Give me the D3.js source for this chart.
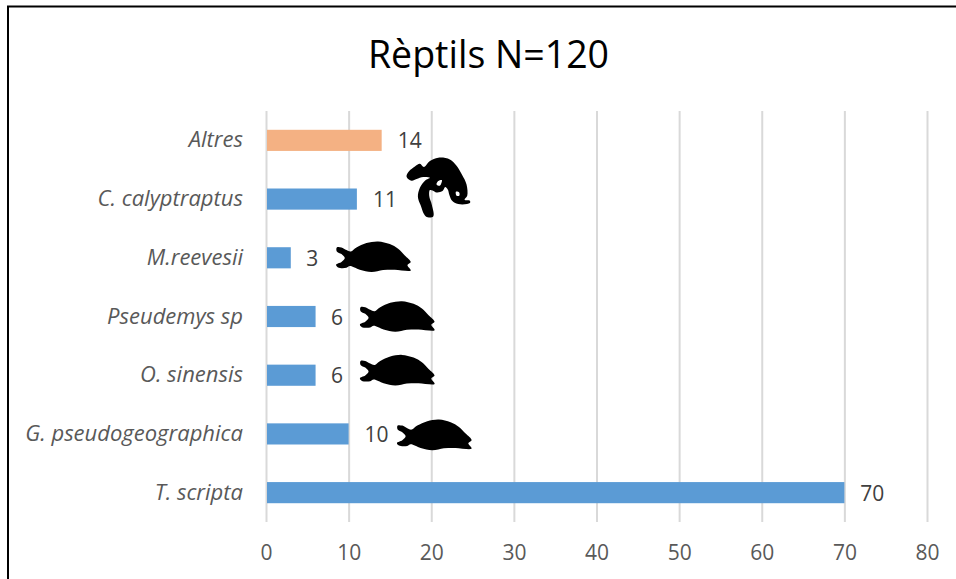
<!DOCTYPE html>
<html><head><meta charset="utf-8">
<script src="https://cdn.jsdelivr.net/npm/d3@7"></script>
<style>html,body{margin:0;padding:0;background:#fff}svg{display:block}
text{font-family:"Open Sans",sans-serif}</style></head>
<body><svg id="c" width="956" height="579"></svg>
<script>
const categories=["Altres","C. calyptraptus","M.reevesii","Pseudemys sp","O. sinensis","G. pseudogeographica","T. scripta"];
const counts=[14,11,3,6,6,10,70];
const highlighted=["Altres"];
const silhouettes=["","chameleon","turtle","turtle","turtle","turtle",""];
const xTicks=[0,10,20,30,40,50,60,70,80];
const titleText="Rèptils N=120";

const svg=d3.select("#c");
svg.append("path").attr("d","M8,579V6.5H956").attr("fill","none").attr("stroke","#000").attr("stroke-width",2);
svg.append("text").attr("x",488.5).attr("y",68).attr("text-anchor","middle").attr("font-size",37.5).attr("fill","#000").text(titleText);

const x=d3.scaleLinear().domain([0,80]).range([266,927]);
const y=d3.scaleBand().domain(categories).range([111,522]).paddingInner(0.64).paddingOuter(0.32);

const gx=svg.append("g").attr("transform","translate(0,522)")
  .call(d3.axisBottom(x).tickValues(xTicks).tickSize(-411).tickPadding(23));
gx.select(".domain").remove();
gx.selectAll(".tick line").attr("stroke","#d9d9d9").attr("stroke-width",2);
gx.selectAll(".tick text").attr("font-size",21).attr("fill","#595959").style("font-family",'"Open Sans",sans-serif');

const gy=svg.append("g").attr("transform","translate(266,0)")
  .call(d3.axisLeft(y).tickSize(0).tickPadding(23));
gy.select(".domain").remove();
gy.selectAll(".tick text").attr("font-size",22).attr("font-style","italic").attr("fill","#595959").style("font-family",'"Open Sans",sans-serif');

const rows=categories.map((c,i)=>({c,v:counts[i],s:silhouettes[i]}));
svg.append("g").selectAll("rect").data(rows).join("rect")
  .attr("x",x(0)+1).attr("y",d=>y(d.c)).attr("height",y.bandwidth())
  .attr("width",d=>x(d.v)-x(0)-1)
  .attr("fill",d=>highlighted.includes(d.c)?"#f4b183":"#5b9bd5");
svg.append("g").selectAll("text").data(rows).join("text")
  .attr("x",d=>x(d.v)+(d.v>=10?28:21.5)).attr("y",d=>y(d.c)+y.bandwidth()/2+8)
  .attr("text-anchor","middle").attr("font-size",21).attr("fill","#404040").text(d=>d.v);

const turtleOutline=[[126,38],[140,38],[155,46],[168,50],[185,38],[215,25],[250,20],[285,28],[310,42],[330,62],[348,82],[338,91],[348,107],[300,105],[265,106],[230,112],[195,105],[165,94],[155,99],[130,98],[124,90],[140,82],[150,70],[140,58],[126,50]];
const chameleonOutline=[[80,155],[88,138],[105,124],[120,116],[132,126],[150,108],[175,98],[210,103],[230,122],[246,148],[260,178],[262,212],[254,224],[270,227],[270,234],[235,237],[216,226],[208,208],[204,194],[196,186],[188,198],[170,202],[158,196],[150,195],[148,212],[156,240],[160,274],[138,274],[122,240],[114,215],[120,188],[136,166],[150,158],[130,156],[110,162],[95,167]];
const chameleonGaps=[[[228,200],[238,202],[238,212],[230,212]],[[175,168],[186,165],[180,182],[170,178]]];
const outline=d3.line().x(p=>p[0]/3).y(p=>p[1]/3).curve(d3.curveCatmullRomClosed.alpha(0.5));
const shapes={turtle:outline(turtleOutline),chameleon:[chameleonOutline,...chameleonGaps].map(outline).join("")};
const nudges={"C. calyptraptus":[23,-74],"M.reevesii":[4,-23],"Pseudemys sp":[3,-22],"O. sinensis":[3,-27],"G. pseudogeographica":[7,-21]};
svg.append("g").selectAll("path").data(rows.filter(d=>d.s)).join("path")
  .attr("fill","#000").attr("fill-rule","evenodd")
  .attr("d",d=>shapes[d.s])
  .attr("transform",d=>`translate(${x(d.v)+nudges[d.c][0]},${y(d.c)+y.bandwidth()/2+nudges[d.c][1]})`);
</script></body></html>
